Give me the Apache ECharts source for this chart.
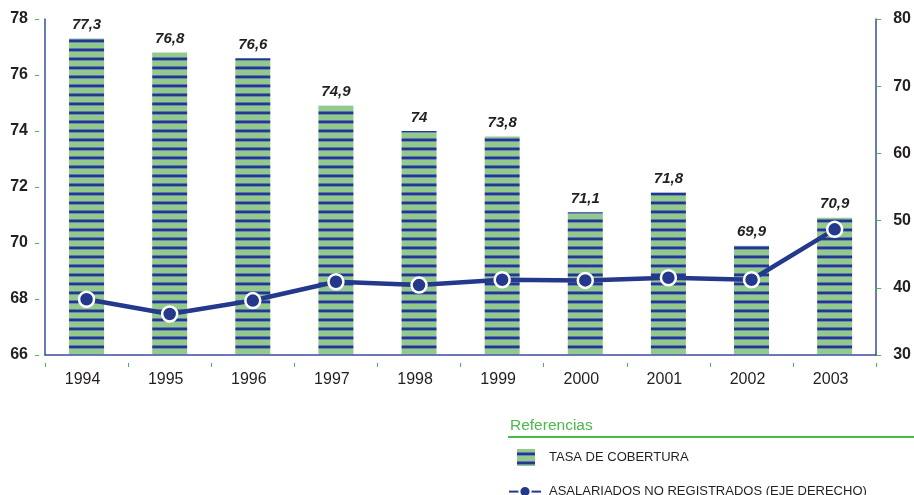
<!DOCTYPE html>
<html><head><meta charset="utf-8">
<script src="https://cdn.jsdelivr.net/npm/echarts@6/dist/echarts.min.js"></script>
<style>html,body{margin:0;padding:0;background:#fff}#c{width:914px;height:495px}</style>
</head><body><div id="c"></div>
<script>
const years = ['1994','1995','1996','1997','1998','1999','2000','2001','2002','2003'];
const tasaCobertura = [77.3, 76.8, 76.6, 74.9, 74, 73.8, 71.1, 71.8, 69.9, 70.9];
const asalariadosNoReg = [38.3, 36.1, 38.1, 40.9, 40.4, 41.2, 41.1, 41.5, 41.2, 48.7];
const leftTicks = {min: 66, max: 78, interval: 2};
const rightTicks = {min: 30, max: 80, interval: 10};
const nameBar = 'TASA DE COBERTURA';
const nameLine = 'ASALARIADOS NO REGISTRADOS (EJE DERECHO)';

const BLUE = '#24398c', GREEN = '#4cb848', TXT = '#231f20';
const FONT = '"Liberation Sans", Arial, sans-serif';

// striped pattern (period 9 px)
const pc = document.createElement('canvas');
pc.width = 4; pc.height = 9;
const g = pc.getContext('2d');
g.fillStyle = '#91ca89'; g.fillRect(0,0,4,9);
g.fillStyle = '#5f76b2'; g.fillRect(0,3,4,1);
g.fillStyle = '#22398a'; g.fillRect(0,4,4,2);
g.fillStyle = '#6f86bb'; g.fillRect(0,6,4,1);
const stripe = {image: pc, repeat: 'repeat'};

const chart = echarts.init(document.getElementById('c'), null, {renderer: 'canvas'});
chart.setOption({
  animation: false,
  textStyle: {fontFamily: FONT},
  grid: {left: 45, right: 37, top: 19, bottom: 140, containLabel: false},
  xAxis: [{
    type: 'category', data: years, boundaryGap: true,
    axisLine: {show: true, lineStyle: {color: '#3a4d9e', width: 1.5}},
    axisTick: {show: false},
    axisLabel: {color: TXT, fontSize: 16, fontFamily: FONT, margin: 17, padding: [0, 8, 0, 0]}
  }, {
    type: 'category', data: years, boundaryGap: true, position: 'bottom', offset: 8,
    axisLine: {show: false},
    axisTick: {show: true, length: 4, lineStyle: {color: GREEN, width: 1}},
    axisLabel: {show: false}
  }],
  yAxis: [{
    type: 'value', position: 'left', min: leftTicks.min, max: leftTicks.max, interval: leftTicks.interval,
    axisLine: {show: true, lineStyle: {color: '#3a4d9e', width: 1.5}},
    axisTick: {show: false}, splitLine: {show: false},
    axisLabel: {color: TXT, fontSize: 16, fontWeight: 'bold', fontFamily: FONT, margin: 17}
  }, {
    type: 'value', position: 'right', min: rightTicks.min, max: rightTicks.max, interval: rightTicks.interval,
    axisLine: {show: true, lineStyle: {color: '#3a4d9e', width: 1.5}},
    axisTick: {show: true, inside: false, length: 5, lineStyle: {color: GREEN, width: 1}},
    splitLine: {show: false},
    axisLabel: {color: TXT, fontSize: 16, fontWeight: 'bold', fontFamily: FONT, margin: 17}
  }, {
    type: 'value', position: 'left', offset: 6, min: leftTicks.min, max: leftTicks.max, interval: leftTicks.interval,
    axisLine: {show: false}, splitLine: {show: false},
    axisTick: {show: true, length: 4, lineStyle: {color: GREEN, width: 1}},
    axisLabel: {show: false}
  }],
  legend: [{
    data: [{name: nameBar, icon: 'rect'}], left: 512, top: 444, orient: 'vertical',
    itemWidth: 18, itemHeight: 17,
    textStyle: {color: TXT, fontSize: 13, fontFamily: FONT, padding: [0,0,0,9]}
  }, {
    data: [nameLine], left: 503, top: 480, orient: 'vertical',
    itemWidth: 32, itemHeight: 14,
    textStyle: {color: TXT, fontSize: 13, fontFamily: FONT, padding: [0,0,0,3]}
  }],
  graphic: [
    {type: 'text', left: 510, top: 418, style: {text: 'Referencias', fill: GREEN, font: '15.5px ' + FONT}},
    {type: 'line', shape: {x1: 508, y1: 437, x2: 914, y2: 437}, style: {stroke: GREEN, lineWidth: 2}}
  ],
  series: [{
    name: nameBar, type: 'bar', data: tasaCobertura, barWidth: 35,
    xAxisIndex: 0, yAxisIndex: 0,
    itemStyle: {color: stripe},
    label: {show: true, position: 'top', distance: 6, color: TXT, fontSize: 15, fontWeight: 'bold', fontStyle: 'italic', fontFamily: FONT,
      formatter: p => String(p.value).replace('.', ',')}
  }, {
    name: nameLine, type: 'line', data: asalariadosNoReg,
    xAxisIndex: 0, yAxisIndex: 1,
    symbol: 'circle', symbolSize: 15,
    lineStyle: {color: BLUE, width: 4.5},
    itemStyle: {color: BLUE, borderColor: '#fff', borderWidth: 2.5},
    z: 5
  }]
});
</script></body></html>
